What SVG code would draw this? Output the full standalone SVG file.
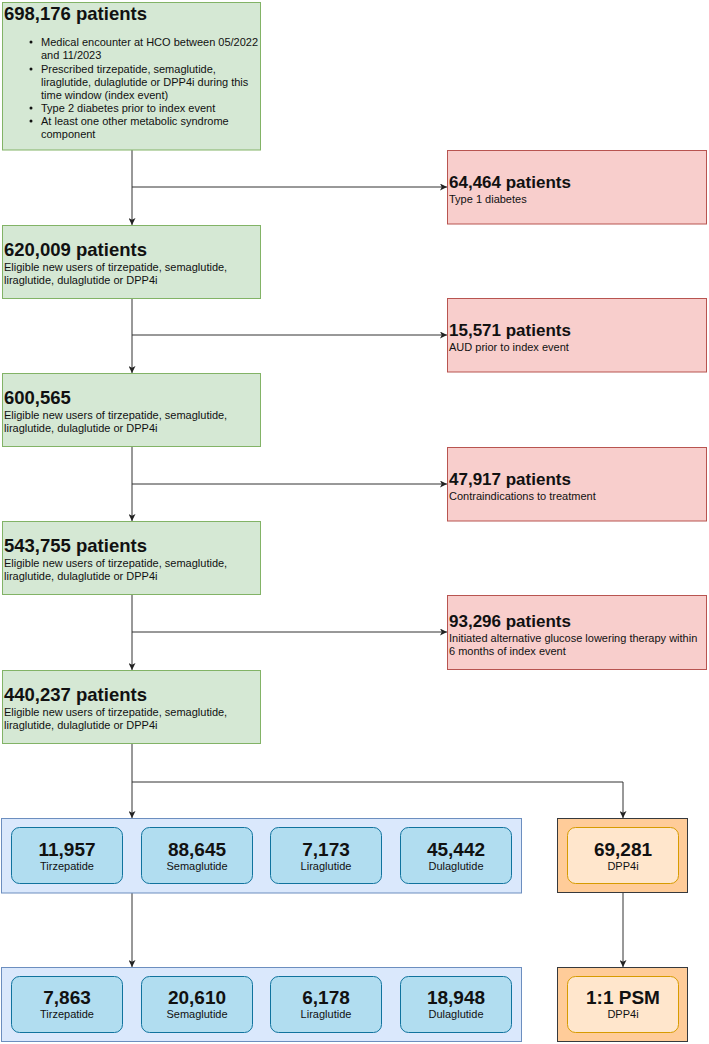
<svg xmlns="http://www.w3.org/2000/svg" width="709" height="1044" viewBox="0 0 709 1044">
<defs>
<marker id="arr" viewBox="0 0 10 10" refX="10" refY="5" markerWidth="7" markerHeight="7" orient="auto" markerUnits="userSpaceOnUse">
<path d="M0,0 L10,5 L0,10 L2.5,5 Z" fill="#222"/>
</marker>
<style>
text{font-family:"Liberation Sans",Arial,sans-serif;fill:#111}
.g{fill:#d5e8d4;stroke:#82b366;stroke-width:1}
.r{fill:#f8cecc;stroke:#b85450;stroke-width:1}
.bc{fill:#dae8fc;stroke:#6c8ebf;stroke-width:1}
.bi{fill:#b1ddf0;stroke:#10739e;stroke-width:1}
.oc{fill:#ffcc99;stroke:#36393d;stroke-width:1}
.oi{fill:#ffe6cc;stroke:#d79b00;stroke-width:1}
.hg{font-size:18.5px;font-weight:bold}
.hr{font-size:17px;font-weight:bold}
.s{font-size:11px}
.num{font-size:19px;font-weight:bold;text-anchor:middle}
.lab{font-size:11px;text-anchor:middle}
.c{fill:none;stroke:#333;stroke-width:1}
</style>
</defs>

<g id="connectors">
<path class="c" d="M132,150 V225" marker-end="url(#arr)"/>
<path class="c" d="M132,187 H447" marker-end="url(#arr)"/>
<path class="c" d="M132,298 V373" marker-end="url(#arr)"/>
<path class="c" d="M132,335 H447" marker-end="url(#arr)"/>
<path class="c" d="M132,446 V521" marker-end="url(#arr)"/>
<path class="c" d="M132,484 H447" marker-end="url(#arr)"/>
<path class="c" d="M132,594 V670" marker-end="url(#arr)"/>
<path class="c" d="M132,632 H447" marker-end="url(#arr)"/>
<path class="c" d="M132,743 V818" marker-end="url(#arr)"/>
<path class="c" d="M132,782 H623 V818" marker-end="url(#arr)"/>
<path class="c" d="M132,893 V967" marker-end="url(#arr)"/>
<path class="c" d="M623,892 V967" marker-end="url(#arr)"/>
</g>

<g id="n1">
<rect class="g" x="2.5" y="2.5" width="258" height="147.5"/>
<text class="hg" x="4" y="20">698,176 patients</text>
<g class="s">
<circle cx="31" cy="42" r="1.5" fill="#111"/>
<text class="s" x="41" y="46">Medical encounter at HCO between 05/2022</text>
<text class="s" x="41" y="59">and 11/2023</text>
<circle cx="31" cy="69" r="1.5" fill="#111"/>
<text class="s" x="41" y="73">Prescribed tirzepatide, semaglutide,</text>
<text class="s" x="41" y="86">liraglutide, dulaglutide or DPP4i during this</text>
<text class="s" x="41" y="99">time window (index event)</text>
<circle cx="31" cy="108" r="1.5" fill="#111"/>
<text class="s" x="41" y="112">Type 2 diabetes prior to index event</text>
<circle cx="31" cy="121" r="1.5" fill="#111"/>
<text class="s" x="41" y="125">At least one other metabolic syndrome</text>
<text class="s" x="41" y="138">component</text>
</g>
</g>

<g id="e1">
<rect class="r" x="447.5" y="150.5" width="259" height="73.5"/>
<text class="hr" x="449" y="188">64,464 patients</text>
<text class="s" x="449" y="203">Type 1 diabetes</text>
</g>

<g id="n2">
<rect class="g" x="2.5" y="225.5" width="258" height="73"/>
<text class="hg" x="4" y="256">620,009 patients</text>
<text class="s" x="4" y="271">Eligible new users of tirzepatide, semaglutide,</text>
<text class="s" x="4" y="284">liraglutide, dulaglutide or DPP4i</text>
</g>

<g id="e2">
<rect class="r" x="447.5" y="298.5" width="259" height="73.5"/>
<text class="hr" x="449" y="336">15,571 patients</text>
<text class="s" x="449" y="351">AUD prior to index event</text>
</g>

<g id="n3">
<rect class="g" x="2.5" y="373.5" width="258" height="73"/>
<text class="hg" x="4" y="404">600,565</text>
<text class="s" x="4" y="419">Eligible new users of tirzepatide, semaglutide,</text>
<text class="s" x="4" y="432">liraglutide, dulaglutide or DPP4i</text>
</g>

<g id="e3">
<rect class="r" x="447.5" y="447.5" width="259" height="73.5"/>
<text class="hr" x="449" y="485">47,917 patients</text>
<text class="s" x="449" y="500">Contraindications to treatment</text>
</g>

<g id="n4">
<rect class="g" x="2.5" y="521.5" width="258" height="73"/>
<text class="hg" x="4" y="552">543,755 patients</text>
<text class="s" x="4" y="567">Eligible new users of tirzepatide, semaglutide,</text>
<text class="s" x="4" y="580">liraglutide, dulaglutide or DPP4i</text>
</g>

<g id="e4">
<rect class="r" x="447.5" y="595.5" width="259" height="74"/>
<text class="hr" x="449" y="627">93,296 patients</text>
<text class="s" x="449" y="642">Initiated alternative glucose lowering therapy within</text>
<text class="s" x="449" y="655">6 months of index event</text>
</g>

<g id="n5">
<rect class="g" x="2.5" y="670.5" width="258" height="73"/>
<text class="hg" x="4" y="701">440,237 patients</text>
<text class="s" x="4" y="716">Eligible new users of tirzepatide, semaglutide,</text>
<text class="s" x="4" y="729">liraglutide, dulaglutide or DPP4i</text>
</g>

<g id="group1">
<rect class="bc" x="1.5" y="818.5" width="520" height="74.5"/>
<g id="g1-tirz">
<rect class="bi" x="11.5" y="827.5" width="111" height="56" rx="8"/>
<text class="num" x="67" y="856">11,957</text>
<text class="lab" x="67" y="870">Tirzepatide</text>
</g>
<g id="g1-sema">
<rect class="bi" x="141.5" y="827.5" width="111" height="56" rx="8"/>
<text class="num" x="197" y="856">88,645</text>
<text class="lab" x="197" y="870">Semaglutide</text>
</g>
<g id="g1-lira">
<rect class="bi" x="270.5" y="827.5" width="111" height="56" rx="8"/>
<text class="num" x="326" y="856">7,173</text>
<text class="lab" x="326" y="870">Liraglutide</text>
</g>
<g id="g1-dula">
<rect class="bi" x="400.5" y="827.5" width="111" height="56" rx="8"/>
<text class="num" x="456" y="856">45,442</text>
<text class="lab" x="456" y="870">Dulaglutide</text>
</g>
</g>

<g id="dpp1">
<rect class="oc" x="557.5" y="818.5" width="130" height="74"/>
<rect class="oi" x="567.5" y="827.5" width="111" height="56" rx="8"/>
<text class="num" x="623" y="856">69,281</text>
<text class="lab" x="623" y="870">DPP4i</text>
</g>

<g id="group2">
<rect class="bc" x="1.5" y="967.5" width="520" height="74"/>
<g id="g2-tirz">
<rect class="bi" x="11.5" y="976.5" width="111" height="56" rx="8"/>
<text class="num" x="67" y="1004">7,863</text>
<text class="lab" x="67" y="1018">Tirzepatide</text>
</g>
<g id="g2-sema">
<rect class="bi" x="141.5" y="976.5" width="111" height="56" rx="8"/>
<text class="num" x="197" y="1004">20,610</text>
<text class="lab" x="197" y="1018">Semaglutide</text>
</g>
<g id="g2-lira">
<rect class="bi" x="270.5" y="976.5" width="111" height="56" rx="8"/>
<text class="num" x="326" y="1004">6,178</text>
<text class="lab" x="326" y="1018">Liraglutide</text>
</g>
<g id="g2-dula">
<rect class="bi" x="400.5" y="976.5" width="111" height="56" rx="8"/>
<text class="num" x="456" y="1004">18,948</text>
<text class="lab" x="456" y="1018">Dulaglutide</text>
</g>
</g>

<g id="dpp2">
<rect class="oc" x="557.5" y="967.5" width="130" height="74"/>
<rect class="oi" x="567.5" y="976.5" width="111" height="56" rx="8"/>
<text class="num" x="623" y="1004">1:1 PSM</text>
<text class="lab" x="623" y="1018">DPP4i</text>
</g>
</svg>
